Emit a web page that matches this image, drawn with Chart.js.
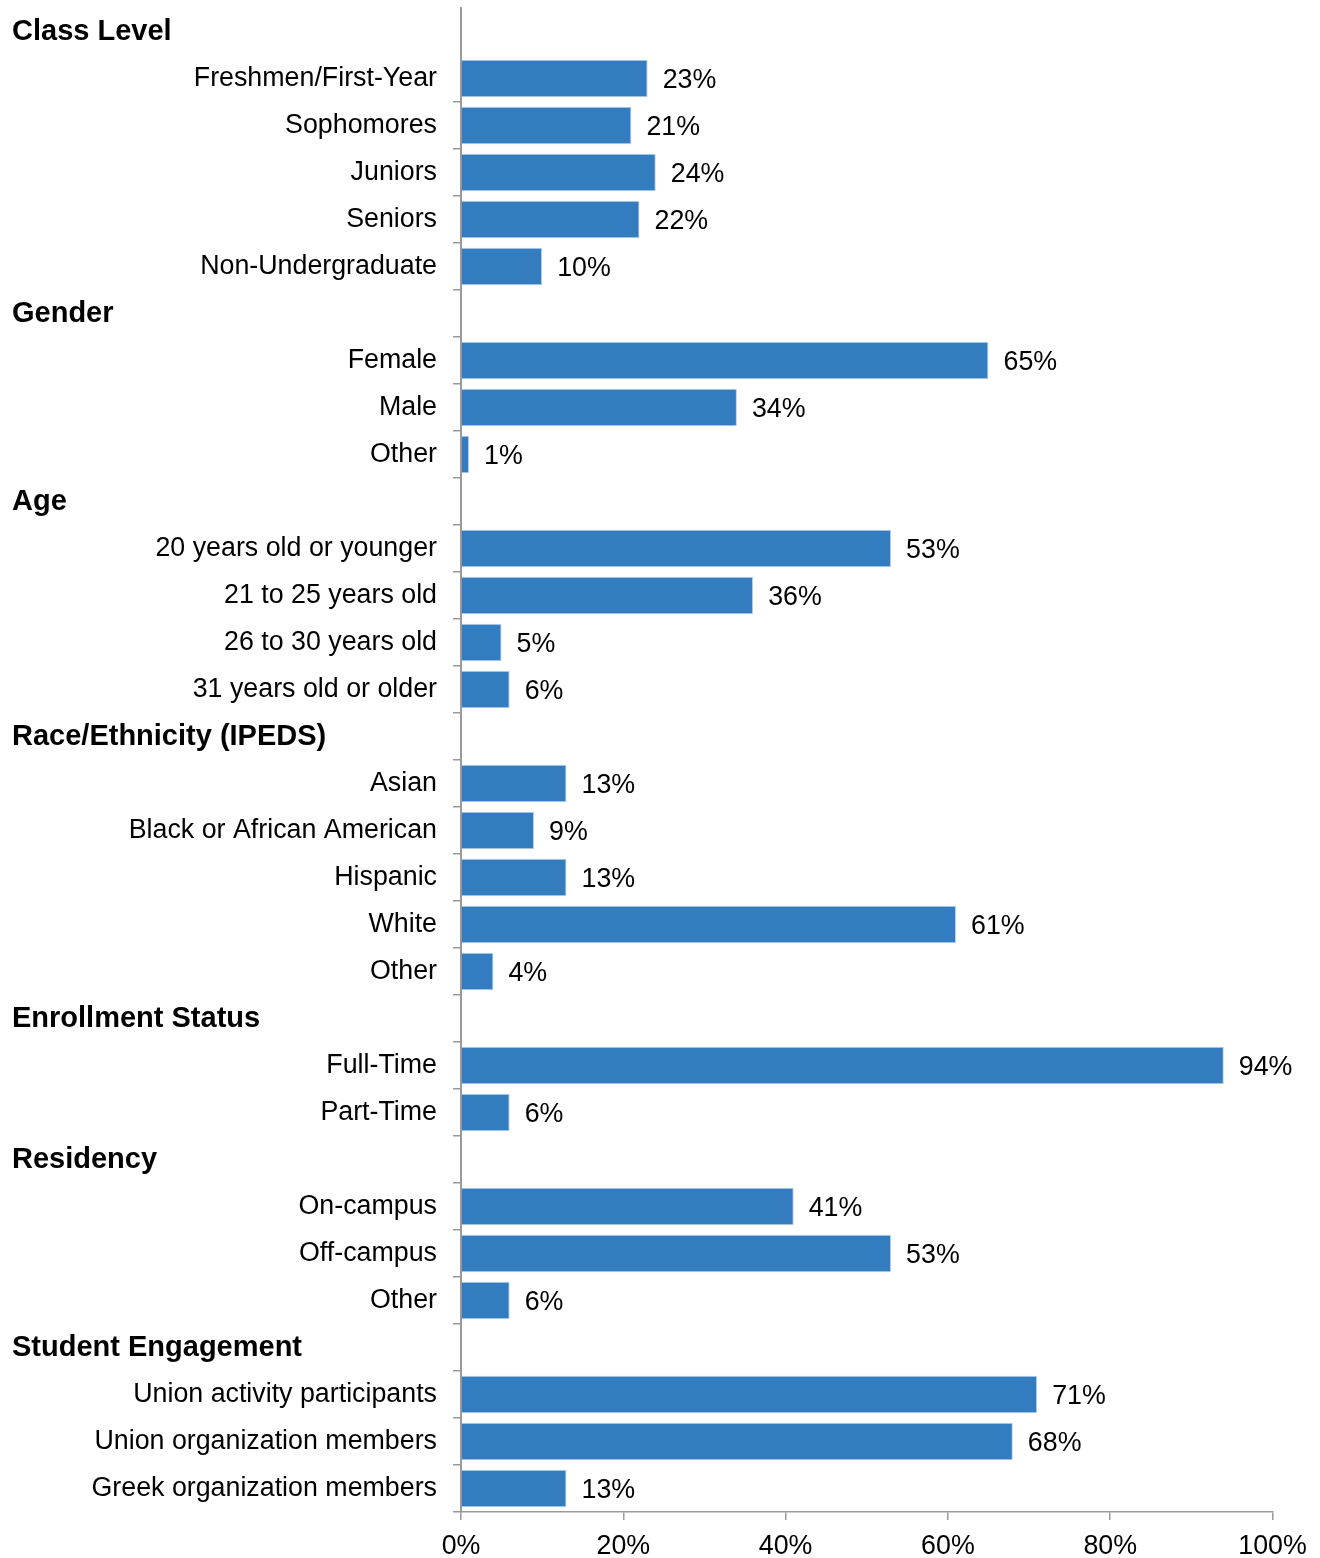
<!DOCTYPE html>
<html>
<head>
<meta charset="utf-8">
<script src="https://cdn.jsdelivr.net/npm/chart.js@4/dist/chart.umd.min.js"></script>
<style>
  html, body { margin: 0; padding: 0; background: #ffffff; }
  #wrap { position: relative; width: 1320px; height: 1558px; }
</style>
</head>
<body>
<div id="wrap"><canvas id="chart"></canvas></div>
<script>
// Survey respondent profile, grouped by section
const groupTitles = [
  'Class Level',
  'Gender',
  'Age',
  'Race/Ethnicity (IPEDS)',
  'Enrollment Status',
  'Residency',
  'Student Engagement'
];

const groupCategories = [
  ['Freshmen/First-Year', 'Sophomores', 'Juniors', 'Seniors', 'Non-Undergraduate'],
  ['Female', 'Male', 'Other'],
  ['20 years old or younger', '21 to 25 years old', '26 to 30 years old', '31 years old or older'],
  ['Asian', 'Black or African American', 'Hispanic', 'White', 'Other'],
  ['Full-Time', 'Part-Time'],
  ['On-campus', 'Off-campus', 'Other'],
  ['Union activity participants', 'Union organization members', 'Greek organization members']
];

const groupPercents = [
  [23, 21, 24, 22, 10],
  [65, 34, 1],
  [53, 36, 5, 6],
  [13, 9, 13, 61, 4],
  [94, 6],
  [41, 53, 6],
  [71, 68, 13]
];

const axisTicks = [0, 20, 40, 60, 80, 100];

// Flatten: each section gets a title row (no bar) followed by its items
const rowLabels = [];
const rowValues = [];
const titleRows = {};
groupTitles.forEach((title, g) => {
  titleRows[rowLabels.length] = title;
  rowLabels.push(title);
  rowValues.push(null);
  groupCategories[g].forEach((name, i) => {
    rowLabels.push(name);
    rowValues.push(groupPercents[g][i]);
  });
});

const FONT = '"Liberation Sans", Arial, sans-serif';
const TEXT_SIZE = 26.8;
const AXIS_GREY = '#9a9a9a';

const labelPlugin = {
  id: 'sectionAndValueLabels',
  afterDraw(chart) {
    const ctx = chart.ctx;
    const yScale = chart.scales.y;
    ctx.save();
    // section titles, left aligned
    ctx.fillStyle = '#000';
    ctx.font = 'bold 29px ' + FONT;
    ctx.textAlign = 'left';
    ctx.textBaseline = 'middle';
    Object.keys(titleRows).forEach(idx => {
      const y = yScale.getPixelForValue(Number(idx));
      ctx.fillText(titleRows[idx], 12, y);
    });
    // percentage labels at bar ends
    ctx.font = TEXT_SIZE + 'px ' + FONT;
    const meta = chart.getDatasetMeta(0);
    meta.data.forEach((bar, i) => {
      const v = rowValues[i];
      if (v === null || v === undefined) return;
      ctx.fillText(v + '%', bar.x + 15, bar.y + 2);
    });
    ctx.restore();
  }
};

new Chart(document.getElementById('chart'), {
  type: 'bar',
  data: {
    labels: rowLabels,
    datasets: [{
      data: rowValues,
      backgroundColor: '#337cc0',
      borderColor: '#b7d2ee',
      borderWidth: 1,
      borderSkipped: 'start',
      barPercentage: 0.8,
      categoryPercentage: 1.0
    }]
  },
  options: {
    indexAxis: 'y',
    responsive: true,
    maintainAspectRatio: false,
    animation: false,
    devicePixelRatio: 1,
    layout: { padding: { top: 8, left: 0, right: 47.5, bottom: 0 } },
    plugins: {
      legend: { display: false },
      tooltip: { enabled: false }
    },
    scales: {
      x: {
        type: 'linear',
        position: 'bottom',
        min: 0,
        max: 100,
        afterBuildTicks(scale) {
          scale.ticks = axisTicks.map(v => ({ value: v }));
        },
        afterFit(scale) { scale.height = 46; },
        ticks: {
          color: '#000',
          font: { family: FONT, size: TEXT_SIZE },
          padding: 11,
          maxRotation: 0,
          callback: v => v + '%'
        },
        grid: {
          drawOnChartArea: false,
          drawTicks: true,
          tickLength: 8,
          color: AXIS_GREY,
          lineWidth: 1.5
        },
        border: { display: true, color: AXIS_GREY, width: 1.5 },
        z: 1
      },
      y: {
        type: 'category',
        position: 'left',
        afterFit(scale) {
          scale.width = 461;
          scale.paddingTop = 0;
          scale.paddingBottom = 0;
        },
        ticks: {
          color: '#000',
          font: { family: FONT, size: TEXT_SIZE },
          padding: 16,
          autoSkip: false,
          callback: (v, i) => (titleRows[i] !== undefined ? '' : rowLabels[i])
        },
        grid: {
          offset: true,
          drawOnChartArea: false,
          drawTicks: true,
          tickLength: 8,
          lineWidth: 1.5,
          color: ctx => (ctx.index === 0 || ctx.index === 1) ? 'rgba(0,0,0,0)' : AXIS_GREY
        },
        border: { display: true, color: AXIS_GREY, width: 2 },
        z: 1
      }
    }
  },
  plugins: [labelPlugin]
});
</script>
</body>
</html>
